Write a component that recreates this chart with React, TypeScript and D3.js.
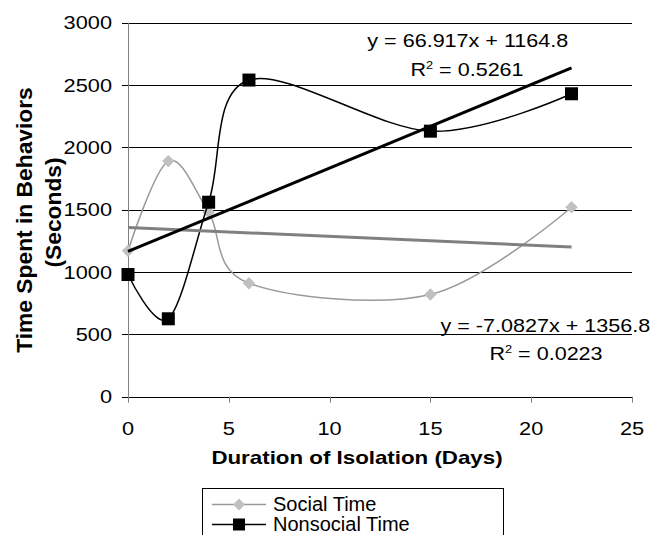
import * as d3 from 'd3';

// Duration of isolation (days) and time spent in behaviours (seconds)
const days = [0, 2, 4, 6, 15, 22];
const socialTime = [1170, 1890, 1480, 910, 820, 1520];
const nonsocialTime = [980, 625, 1560, 2540, 2130, 2430];

const yTicks = [0, 500, 1000, 1500, 2000, 2500, 3000];
const xTicks = [0, 5, 10, 15, 20, 25];

// linear trendlines as printed on the chart
const socialTrend = { slope: -7.0827, intercept: 1356.8, r2: '0.0223' };
const nonsocialTrend = { slope: 66.917, intercept: 1164.8, r2: '0.5261' };

const FONT = '"Liberation Sans", Arial, sans-serif';

type Pt = { x: number; y: number };

const App = () => {
  const width = 652;
  const height = 535;

  const x = d3.scaleLinear().domain([0, 25]).range([128, 632]);
  const y = d3.scaleLinear().domain([0, 3000]).range([396.7, 22.7]);

  const social: Pt[] = days.map((d, i) => ({ x: d, y: socialTime[i] }));
  const nonsocial: Pt[] = days.map((d, i) => ({ x: d, y: nonsocialTime[i] }));

  // Excel "smoothed line" ~ uniform Catmull-Rom
  const smooth = d3.line<Pt>()
    .x(d => x(d.x))
    .y(d => y(d.y))
    .curve(d3.curveCardinal.tension(0));

  const straight = d3.line<Pt>().x(d => x(d.x)).y(d => y(d.y));

  const xMax = d3.max(days) || 22;
  const trendPts = (t: { slope: number; intercept: number }): Pt[] => [
    { x: 0, y: t.intercept },
    { x: xMax, y: t.intercept + t.slope * xMax },
  ];

  const diamond = (cx: number, cy: number, r: number) =>
    `M${cx},${cy - r}L${cx + r},${cy}L${cx},${cy + r}L${cx - r},${cy}Z`;

  const sx = 1.17; // text in the picture is drawn a bit wide

  return (
    <svg width={width} height={height} style={{ position: 'absolute', left: 0, top: 0, background: '#fff' }}
      fontFamily={FONT}>
      {/* gridlines */}
      {yTicks.filter(t => t > 0).map(t => (
        <line key={t} x1={x(0)} x2={x(25)} y1={Math.round(y(t)) + 0.5} y2={Math.round(y(t)) + 0.5}
          stroke="#000" strokeWidth={1} />
      ))}
      {/* axes */}
      <line x1={x(0)} x2={x(25)} y1={Math.round(y(0)) + 0.5} y2={Math.round(y(0)) + 0.5} stroke="#000" />
      <line x1={Math.round(x(0)) + 0.5} x2={Math.round(x(0)) + 0.5} y1={y(3000)} y2={y(0)} stroke="#808080" />
      {yTicks.map(t => (
        <g key={'yt' + t}>
          <line x1={x(0) - 6} x2={x(0)} y1={Math.round(y(t)) + 0.5} y2={Math.round(y(t)) + 0.5} stroke="#000" />
          <text transform={`translate(112,${y(t) + 6.6}) scale(${sx},1)`} textAnchor="end" fontSize={18.6}
            fill="#000">{t}</text>
        </g>
      ))}
      {xTicks.map(t => (
        <g key={'xt' + t}>
          <line x1={Math.round(x(t)) + 0.5} x2={Math.round(x(t)) + 0.5} y1={y(0)} y2={y(0) + 6} stroke="#808080" />
          <text transform={`translate(${x(t)},435) scale(${sx},1)`} textAnchor="middle" fontSize={18.6}
            fill="#000">{t}</text>
        </g>
      ))}

      {/* axis titles */}
      <text transform={`translate(357,464) scale(1.2,1)`} textAnchor="middle" fontSize={18.6} fontWeight="bold">
        Duration of Isolation (Days)
      </text>
      <text transform="translate(32,220) rotate(-90)" textAnchor="middle" fontSize={22.8} fontWeight="bold">
        Time Spent in Behaviors
      </text>
      <text transform="translate(61,212.5) rotate(-90)" textAnchor="middle" fontSize={22.8} fontWeight="bold">
        (Seconds)
      </text>

      {/* social series */}
      <path d={smooth(social) || ''} fill="none" stroke="#999999" strokeWidth={1.5} />
      {social.map((p, i) => (
        <path key={'s' + i} d={diamond(x(p.x), y(p.y), 6.2)} fill="#c0c0c0" />
      ))}

      {/* nonsocial series */}
      <path d={smooth(nonsocial) || ''} fill="none" stroke="#000" strokeWidth={1.5} />
      {nonsocial.map((p, i) => (
        <rect key={'n' + i} x={x(p.x) - 6.5} y={y(p.y) - 6.5} width={13} height={13} fill="#000" />
      ))}

      {/* trendlines */}
      <path d={straight(trendPts(socialTrend)) || ''} fill="none" stroke="#808080" strokeWidth={3} />
      <path d={straight(trendPts(nonsocialTrend)) || ''} fill="none" stroke="#000" strokeWidth={3} />

      {/* trendline equations */}
      <text transform={`translate(467.8,46.5) scale(1.16,1)`} textAnchor="middle" fontSize={18.6}>
        {`y = ${nonsocialTrend.slope}x + ${nonsocialTrend.intercept}`}
      </text>
      <text transform={`translate(467,76) scale(1.16,1)`} textAnchor="middle" fontSize={18.6}>
        R<tspan dy={-7} fontSize={11}>2</tspan><tspan dy={7}>{` = ${nonsocialTrend.r2}`}</tspan>
      </text>
      <text transform={`translate(545.3,331.5) scale(1.16,1)`} textAnchor="middle" fontSize={18.6}>
        {`y = ${socialTrend.slope}x + ${socialTrend.intercept}`}
      </text>
      <text transform={`translate(546,360) scale(1.16,1)`} textAnchor="middle" fontSize={18.6}>
        R<tspan dy={-7} fontSize={11}>2</tspan><tspan dy={7}>{` = ${socialTrend.r2}`}</tspan>
      </text>

      {/* legend (cut off at the bottom, like the picture) */}
      <rect x={202.5} y={488.5} width={301} height={80} fill="#fff" stroke="#000" />
      <line x1={212} x2={266} y1={504.5} y2={504.5} stroke="#999999" strokeWidth={1.5} />
      <path d={diamond(239, 504.5, 6)} fill="#c0c0c0" />
      <text x={273} y={510.5} fontSize={20}>Social Time</text>
      <line x1={212} x2={266} y1={524.5} y2={524.5} stroke="#000" strokeWidth={1.5} />
      <rect x={233} y={518.5} width={12} height={12} fill="#000" />
      <text x={273} y={530.5} fontSize={20}>Nonsocial Time</text>
    </svg>
  );
};

export default App;
